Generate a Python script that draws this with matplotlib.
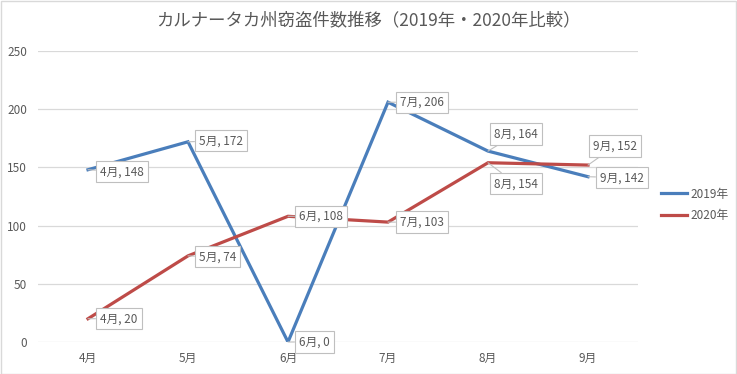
import matplotlib
matplotlib.use("Agg")
import matplotlib.pyplot as plt
from matplotlib.patches import Rectangle

plt.rcParams['font.family'] = ['Noto Sans CJK JP', 'DejaVu Sans']

months = ["4月", "5月", "6月", "7月", "8月", "9月"]
series_names = ["2019年", "2020年"]
values_2019 = [148, 172, 0, 206, 164, 142]
values_2020 = [20, 74, 108, 103, 154, 152]
yticks = [0, 50, 100, 150, 200, 250]
title = "カルナータカ州窃盗件数推移（2019年・2020年比較）"

colors = ["#4A7EBB", "#BE4B48"]
text_color = "#595959"

# label offsets in pixels (dx, dy)
offsets_2019 = [(12, -2), (11, 1), (11, 0), (12, 0), (6, 17), (12, -1)]
offsets_2020 = [(12, 0), (11, -1), (11, 0), (12, 0), (6, -21), (5, 19)]

W, H = 737, 374
fig = plt.figure(figsize=(W / 100, H / 100), dpi=100)
ax = fig.add_axes([38 / W, (H - 342) / H, 600 / W, 291 / H])

x = list(range(len(months)))
for vals, c, name in zip([values_2019, values_2020], colors, series_names):
    ax.plot(x, vals, color=c, lw=2.3, label=name, solid_joinstyle='miter', zorder=3)

for vals, offs in zip([values_2019, values_2020], [offsets_2019, offsets_2020]):
    for xi, v, (dx, dy) in zip(x, vals, offs):
        ax.annotate(f"{months[xi]}, {v}", xy=(xi, v), xytext=(dx, dy),
                    textcoords='offset pixels', ha='left', va='center',
                    fontsize=8.5, color=text_color, zorder=5,
                    bbox=dict(boxstyle='square,pad=0.35', fc='white', ec='#BFBFBF', lw=0.8),
                    arrowprops=dict(arrowstyle='-', color='#BFBFBF', lw=0.8,
                                    shrinkA=0, shrinkB=0))

ax.set_xlim(-0.5, len(months) - 0.5)
ax.set_ylim(0, 250)
ax.set_yticks(yticks)
ax.set_xticks(x)
ax.set_xticklabels(months)
ax.tick_params(axis='both', length=0, labelsize=8.5, colors=text_color)
ax.tick_params(axis='x', pad=7)
ax.tick_params(axis='y', pad=8)
ax.grid(axis='y', color='#D9D9D9', lw=0.9)
ax.set_axisbelow(True)
for s in ax.spines.values():
    s.set_visible(False)

fig.text(368 / W, 1 - 20 / H, title, ha='center', va='center', fontsize=12.5, color=text_color)

leg = fig.legend(loc='center left', bbox_to_anchor=(650 / W, 1 - 205 / H), frameon=False,
                 fontsize=8.5, handlelength=2.2, handletextpad=0.3, labelspacing=0.75,
                 labelcolor=text_color)

fig.patches.append(Rectangle((0.5 / W, 0.5 / H), 1 - 1.5 / W, 1 - 1.5 / H,
                             transform=fig.transFigure, fill=False, ec='#D9D9D9', lw=1))

fig.savefig("out.png", dpi=100, facecolor='white')
